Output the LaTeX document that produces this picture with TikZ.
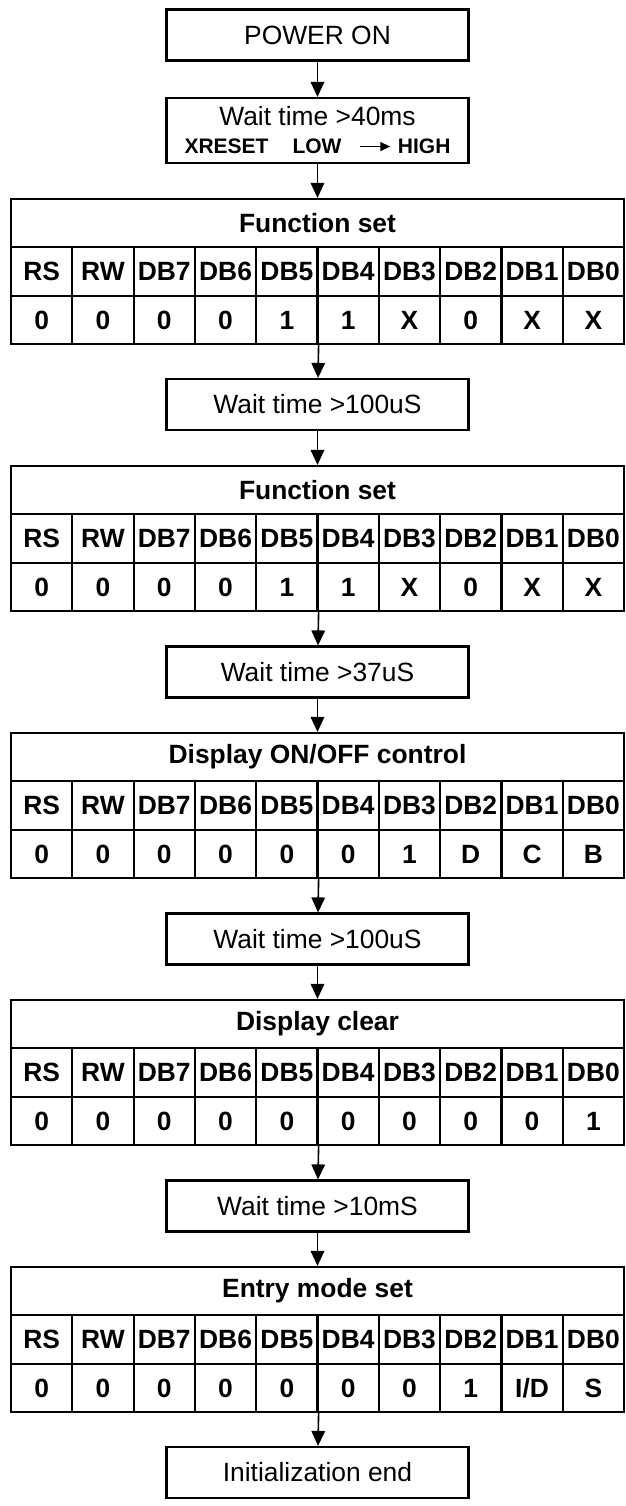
\documentclass[tikz,border=0pt]{standalone}
\usepackage{fontspec}
\setmainfont{Liberation Sans}
\usetikzlibrary{arrows.meta}
\tikzstyle{stepbox}=[rectangle, draw, line width=1.1pt, minimum width=151pt, minimum height=25.5pt, inner sep=0pt, font=\fontsize{13.2}{15}\selectfont]
\tikzstyle{cell}=[rectangle, draw, line width=1.1pt, minimum width=30.65pt, minimum height=24.5pt, inner sep=0pt, font=\fontsize{13.2}{15}\selectfont\bfseries]
\tikzstyle{titlecell}=[cell, minimum width=306.5pt, minimum height=24pt]
\newcommand{\stepnode}{\node[stepbox]}
\newcommand{\lowhigh}{\tikz[baseline]\draw[line width=0.7pt, -{Triangle[length=5pt,width=4.5pt]}] (0pt,3.7pt) -- (15pt,3.7pt);}
% #1 name, #2 top (px), #3 title, #4 bits
\newcommand{\cmdtable}[4]{%
  \node[titlecell] (#1) at (317.5,#2+24) {#3};
  \foreach \lbl [count=\i] in {RS,RW,DB7,DB6,DB5,DB4,DB3,DB2,DB1,DB0}
    \node[cell] (#1h\i) at (61.3*\i-19.65,#2+72.5) {\lbl};
  \foreach \val [count=\i] in {#4}
    \node[cell, minimum height=24pt] (#1d\i) at (61.3*\i-19.65,#2+121) {\val};
}

\begin{document}
\begin{tikzpicture}[x=0.5pt, y=-0.5pt
  ,every edge/.style={draw, line width=0.8pt, -{Triangle[length=7.5pt,width=6.8pt]}}
]
\useasboundingbox (0,0) rectangle (626,1506);
\stepnode (pwr) at (317.5,35) {POWER ON};
\stepnode[minimum height=32.5pt, align=center] (w1) at (317.5,130.5)
  {Wait time >40ms\\[-1pt]{\bfseries\fontsize{10.5}{12}\selectfont XRESET\hspace{12pt}LOW\hspace{9pt}\lowhigh\hspace{3.5pt}HIGH}};
\cmdtable{t1}{199}{Function set}{0,0,0,0,1,1,X,0,X,X}
\stepnode (w2) at (317.5,404.5) {Wait time >100uS};
\cmdtable{t2}{466}{Function set}{0,0,0,0,1,1,X,0,X,X}
\stepnode (w3) at (317.5,672) {Wait time >37uS};
\cmdtable{t3}{733}{Display ON/OFF control}{0,0,0,0,0,0,1,D,C,B}
\stepnode (w4) at (317.5,939) {Wait time >100uS};
\cmdtable{t4}{1000}{Display clear}{0,0,0,0,0,0,0,0,0,1}
\stepnode (w5) at (317.5,1206) {Wait time >10mS};
\cmdtable{t5}{1267}{Entry mode set}{0,0,0,0,0,0,0,1,{I/D},S}
\stepnode (fin) at (317.5,1472.5) {Initialization end};
\path
(pwr) edge (w1)
(w1) edge (t1)
(t1d5.south east) edge (w2)
(w2) edge (t2)
(t2d5.south east) edge (w3)
(w3) edge (t3)
(t3d5.south east) edge (w4)
(w4) edge (t4)
(t4d5.south east) edge (w5)
(w5) edge (t5)
(t5d5.south east) edge (fin)
;
\end{tikzpicture}
\end{document}
